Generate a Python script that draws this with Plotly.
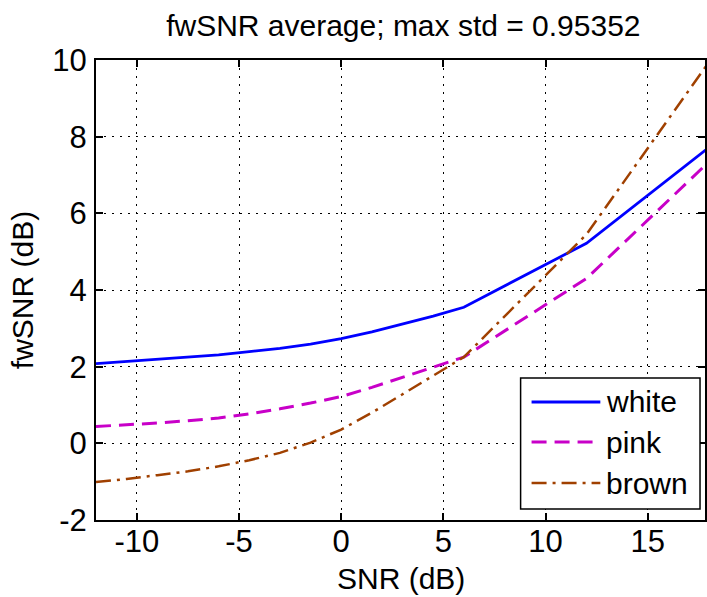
import plotly.graph_objects as go

# ---- data ----
snr_db = [-12, -10.5, -9, -7.5, -6, -4.5, -3, -1.5, 0, 1.5, 3, 4.5, 6, 12, 18]
white = [2.08, 2.14, 2.20, 2.25, 2.31, 2.39, 2.48, 2.59, 2.73, 2.91, 3.11, 3.32, 3.55, 5.22, 7.72]
pink = [0.44, 0.48, 0.53, 0.59, 0.66, 0.77, 0.90, 1.05, 1.22, 1.46, 1.72, 1.98, 2.25, 4.30, 7.35]
brown = [-1.01, -0.93, -0.83, -0.73, -0.60, -0.44, -0.25, 0.02, 0.36, 0.80, 1.28, 1.76, 2.25, 5.45, 9.95]
series_names = ["white", "pink", "brown"]
x_ticks = [-10, -5, 0, 5, 10, 15]
y_ticks = [-2, 0, 2, 4, 6, 8, 10]

W, H = 707, 597
L, R, T, B = 96, 0, 60, 77
FONT = "Liberation Sans, Arial, Helvetica, sans-serif"

colors = ["#0000FF", "#C800C8", "#A04000"]
dashes = ["solid", "15px,8px", "15px,6px,3px,6px"]
widths = [2.8, 3, 2.5]

fig = go.Figure()
for name, ys, c, d, w in zip(series_names, [white, pink, brown], colors, dashes, widths):
    fig.add_trace(go.Scatter(x=snr_db, y=ys, mode="lines", name=name,
                             line=dict(color=c, dash=d, width=w),
                             showlegend=False))

pw = W - L - R
ph = H - T - B


def px(xp):
    return (xp - L) / pw


def py(yp):
    return (H - B - yp) / ph


# legend box (manual, to match MATLAB-style long line samples)
shapes = [dict(type="rect", xref="paper", yref="paper",
               x0=px(522), x1=px(702), y0=py(509), y1=py(378),
               line=dict(color="black", width=1.5), fillcolor="white", layer="above")]
annotations = []
rows = [402, 442, 483]
for name, c, d, w, ry in zip(series_names, colors, dashes, widths, rows):
    shapes.append(dict(type="line", xref="paper", yref="paper",
                       x0=px(533), x1=px(602), y0=py(ry), y1=py(ry),
                       line=dict(color=c, dash=d, width=w), layer="above"))
    annotations.append(dict(xref="paper", yref="paper", x=px(606), y=py(ry),
                            text=name, showarrow=False, xanchor="left", yanchor="middle",
                            font=dict(family=FONT, size=30, color="black")))

# x-axis title as annotation to control its exact vertical position
annotations.append(dict(xref="paper", yref="paper", x=px(402), y=py(578),
                        text="SNR (dB)", showarrow=False, xanchor="center", yanchor="middle",
                        font=dict(family=FONT, size=30, color="black")))

fig.update_layout(
    width=W, height=H,
    margin=dict(l=L, r=R, t=T, b=B, pad=0),
    paper_bgcolor="white", plot_bgcolor="white",
    font=dict(family=FONT, size=30, color="black"),
    title=dict(text="fwSNR average; max std = 0.95352", x=0.5705, xanchor="center",
               y=1 - 25 / H, yanchor="middle",
               font=dict(family=FONT, size=30, color="black")),
    shapes=shapes, annotations=annotations,
    xaxis=dict(range=[-12, 17.8], tickvals=x_ticks, ticktext=[str(v) for v in x_ticks],
               showgrid=True, gridcolor="#000000", griddash="1.5px,6.5px", gridwidth=1.3,
               zeroline=False, showline=True, linecolor="black", linewidth=2,
               mirror="ticks", ticks="inside", ticklen=7, tickcolor="black", tickwidth=1.5,
               tickfont=dict(family=FONT, size=31), ticklabelstandoff=-7),
    yaxis=dict(range=[-2, 10], tickvals=y_ticks, ticktext=[str(v) for v in y_ticks],
               showgrid=True, gridcolor="#000000", griddash="1.5px,6.5px", gridwidth=1.3,
               zeroline=False, showline=True, linecolor="black", linewidth=2,
               mirror="ticks", ticks="inside", ticklen=7, tickcolor="black", tickwidth=1.5,
               tickfont=dict(family=FONT, size=31), ticklabelstandoff=1,
               title=dict(text="fwSNR (dB)", font=dict(family=FONT, size=30), standoff=10)),
)

fig.write_html("out.html")
